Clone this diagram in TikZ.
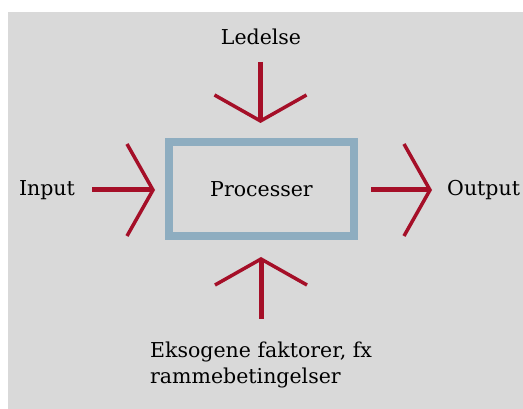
\documentclass[tikz,border=0pt]{standalone}
\usepackage{fontspec}
\setmainfont{DejaVu Serif}
\usepackage{tikz}
\usetikzlibrary{arrows.meta,positioning}
\definecolor{barbred}{HTML}{A50F28}
\definecolor{boxblue}{HTML}{8EADC0}
\definecolor{bggray}{HTML}{D9D9D9}

\begin{document}
\begin{tikzpicture}[x=1pt,y=-1pt,
    lbl/.style={inner sep=0pt,font=\fontsize{20.5}{26}\selectfont,text=black},
    proc/.style={rectangle,draw=boxblue,line width=8pt,minimum width=185pt,minimum height=94pt,inner sep=0pt},
    e/.style={barbred,line width=5pt,-{Straight Barb[length=26pt,width=92pt,line width=3.5pt]}}
  ]
    \useasboundingbox (0,0) rectangle (523,409);
    \fill[bggray] (8,12) rectangle (523,409);
    \node[proc,lbl] (p) at (261.5,189) {Processer};
    \node[lbl] (led) at (261,37) {Ledelse};
    \node[lbl] (inp) at (47,190) {Input};
    \node[lbl,anchor=west] (out) at (447,190) {Output};
    \node[lbl,anchor=north west,align=left] (eks) at (150,342) {Eksogene faktorer, fx\\rammebetingelser};
    \coordinate (t0) at (260.5,62);  \coordinate (t1) at (260.5,123);
    \coordinate (l0) at (92,190);    \coordinate (l1) at (155,190);
    \coordinate (r0) at (371,190);   \coordinate (r1) at (432,190);
    \coordinate (b0) at (261,319);   \coordinate (b1) at (261,257);
    \draw[e] (t0)--(t1); \draw[e] (l0)--(l1);
    \draw[e] (r0)--(r1); \draw[e] (b0)--(b1);
  \end{tikzpicture}
\end{document}
